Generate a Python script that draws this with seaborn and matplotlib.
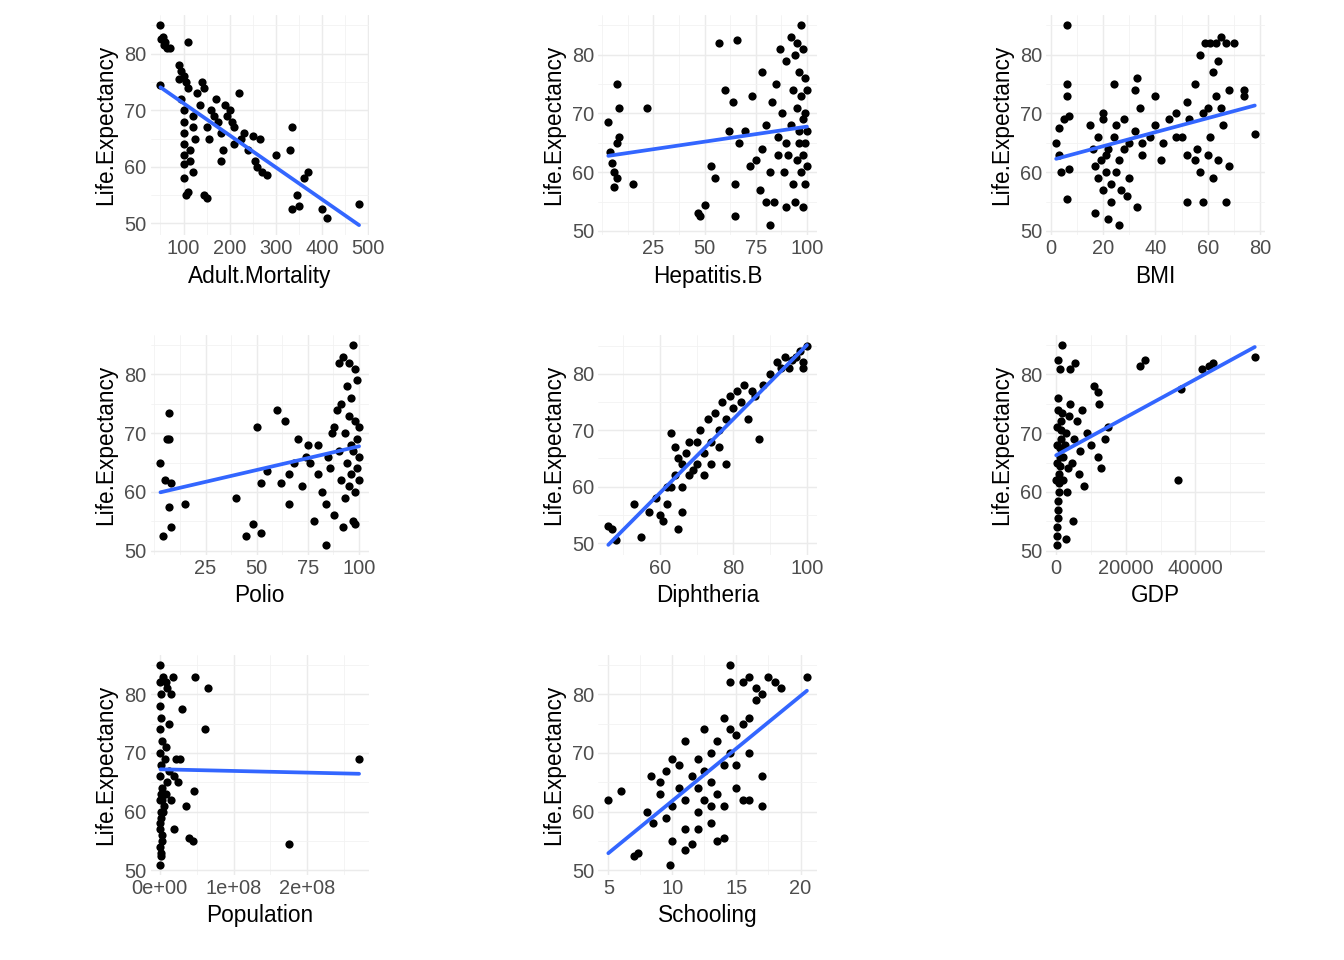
import numpy as np
import matplotlib
matplotlib.use("Agg")
import matplotlib.pyplot as plt
import seaborn as sns
from matplotlib.ticker import AutoMinorLocator, FixedLocator

# Life.Expectancy vs each predictor
adult_mortality = [50, 55, 52, 60, 58, 65, 70, 50, 110, 90, 95, 100, 105, 110, 90, 95, 100, 100, 100, 100, 100, 100, 102, 105, 110,
                   120, 120, 125, 115, 115, 120, 130, 135, 140, 145, 145, 150, 150, 155, 160, 165, 170, 175, 180, 180, 185, 190, 195,
                   200, 205, 210, 210, 220, 225, 230, 240, 250, 255, 260, 265, 270, 280, 300, 330, 335, 335, 345, 350, 360, 370, 400, 410, 480]
le_am = [85, 83, 82.5, 82, 81.5, 81, 81, 74.5, 82, 78, 77, 76, 75, 74, 75.5, 72, 70, 68, 66, 64, 62, 60.5, 58, 55, 55.5,
         69, 67, 65, 63, 61, 59, 73, 71, 75, 74, 55, 54.5, 67, 65, 70, 69, 72, 68, 66, 61, 63, 71, 69,
         70, 68, 67, 64, 73, 65, 66, 63, 65.5, 61, 60, 65, 59, 58.5, 62, 63, 67, 52.5, 55, 53, 58, 59, 52.5, 51, 53.5]

hep_b = [3, 4, 5, 6, 6, 7, 7, 8, 8, 7, 15, 22, 47, 48, 50, 53, 55, 57, 60, 62, 64, 65, 66, 65, 67, 70, 72, 73, 75, 77, 78, 78,
         80, 80, 82, 82, 83, 84, 85, 86, 86, 87, 88, 89, 90, 90, 90, 91, 92, 92, 93, 93, 94, 94, 95, 95, 95, 96, 96, 96,
         97, 97, 97, 98, 98, 98, 98, 99, 99, 99, 99, 100, 100, 100]
le_hb = [68.5, 63.5, 61.5, 60, 57.5, 59, 75, 71, 66, 65, 58, 71, 53, 52.5, 54.5, 61, 59, 82, 74, 67, 72, 52.5, 82.5, 58, 65, 67, 61, 73, 62, 57, 64, 77,
         55, 68, 60, 51, 72, 55, 75, 63, 66, 81, 70, 60, 54, 79, 65, 63, 83, 68, 58, 74, 55, 80, 62, 71, 82, 65, 67, 77,
         60, 85, 73, 54, 63, 69, 81, 65, 58, 76, 70, 67, 61, 74]

bmi = [2, 3, 3, 4, 5, 6, 6, 6, 6, 7, 7, 15, 16, 17, 17, 18, 18, 19, 20, 20, 20, 21, 21, 22, 22, 23, 23, 24, 24, 25, 25, 26, 26,
       27, 28, 28, 29, 30, 30, 32, 32, 33, 33, 34, 35, 35, 38, 40, 40, 42, 43, 45, 48, 48, 50, 52, 52, 52, 53, 55, 55, 56, 57,
       57, 58, 58, 59, 60, 60, 61, 61, 62, 62, 63, 63, 64, 64, 65, 65, 66, 67, 67, 68, 68, 70, 74, 74, 78]
le_bmi = [65, 63, 67.5, 60, 69, 85, 73, 75, 55.5, 69.5, 60.5, 68, 64, 61, 53, 59, 66, 62, 57, 69, 70, 60, 63, 52, 64, 58, 55, 75, 66, 60, 68, 62, 51,
          57, 64, 69, 56, 65, 59, 67, 74, 54, 76, 71, 63, 65, 66, 68, 73, 62, 65, 69, 70, 66, 66, 63, 55, 72, 69, 75, 62, 64, 60,
          80, 55, 70, 82, 71, 63, 82, 66, 77, 59, 82, 73, 62, 79, 83, 71, 68, 55, 82, 61, 74, 82, 74, 73, 66.5]

polio = [3, 4, 5, 6, 7, 7, 8, 7, 8, 15, 40, 45, 48, 50, 52, 52, 55, 60, 62, 64, 66, 66, 68, 70, 72, 74, 75, 76, 78, 80, 80, 82,
         84, 84, 85, 86, 87, 88, 88, 89, 90, 90, 91, 91, 92, 92, 93, 93, 94, 94, 95, 95, 95, 96, 96, 96, 97, 97, 97, 98, 98, 98,
         98, 99, 99, 99, 100, 100, 100]
le_polio = [65, 52.5, 62, 69, 69, 73.5, 61.5, 57.5, 54, 58, 59, 52.5, 54.5, 71, 53, 61.5, 63.5, 74, 61.5, 72, 63, 58, 65, 69, 61, 66, 68, 65, 55, 68, 63, 60,
            51, 58, 66, 64, 70, 71, 56, 74, 82, 67, 62, 75, 83, 54, 70, 59, 78, 65, 82, 61, 73, 63, 68, 76, 85, 55, 67, 81, 60, 72,
            54.5, 64, 69, 79, 62, 66, 71]

diphtheria = [46, 47, 48, 53, 55, 57, 59, 60, 61, 62, 62, 63, 63, 64, 64, 65, 65, 66, 66, 66, 67, 68, 68, 69, 70, 70, 71, 72, 72, 73,
              74, 74, 75, 76, 76, 77, 78, 78, 79, 80, 81, 82, 83, 84, 85, 86, 87, 88, 90, 92, 93, 94, 95, 96, 97, 98, 99, 99, 100]
le_diph = [53, 52.5, 50.5, 57, 51, 55.5, 58, 55, 54, 57, 60, 69.5, 60, 67, 62, 52.5, 65, 55.5, 60, 64, 66, 62, 68, 63, 68, 64, 70, 66, 62, 72,
           68, 64, 73, 67, 70, 75, 72, 64, 76, 74, 77, 75, 78, 72, 77, 76, 68.5, 78, 80, 82, 81, 83, 81, 82.5, 83, 84, 82, 81, 85]

gdp = [200, 300, 400, 500, 600, 700, 800, 900, 1000, 1100, 1200, 1300, 1400, 1500, 1600, 1700, 100, 200, 300, 400, 500, 600, 700,
       1200, 1800, 2000, 2200, 2500, 2800, 3000, 3200, 3500, 3800, 4000, 4200, 4500, 5000, 5200, 5500, 6000, 6500, 7000, 7500,
       8000, 9000, 10000, 11000, 12000, 12000, 12500, 13000, 14000, 15000, 24000, 25500, 35000, 36000, 42000, 44000, 45000, 57000]
le_gdp = [51, 52.5, 54, 55.5, 57, 58.5, 60, 61.5, 63, 64.5, 66, 67.5, 69, 70.5, 72, 73.5, 62, 65, 68, 71, 74, 76, 82.5,
          81, 85, 62, 66, 68, 52, 70, 60, 64, 73, 81, 75, 65, 55, 69, 82, 72, 63, 67, 74,
          61, 70, 68, 78, 77, 66, 75, 64, 69, 71, 81.5, 82.5, 62, 77.5, 81, 81.5, 82, 83]

population = [1e6, 2e6, 1e6, 3e6, 1e6, 2e6, 1e6, 3e6, 1e6, 2e6, 1e6, 3e6, 1e6, 2e6, 1e6, 2e6, 1e6, 1e6, 5e6, 8e6, 10e6,
              6e6, 8e6, 10e6, 12e6, 7e6, 9e6, 12e6, 15e6, 18e6, 15e6, 20e6, 20e6, 22e6, 25e6, 30e6, 28e6, 35e6, 40e6, 45e6,
              47e6, 48e6, 62e6, 65e6, 175e6, 270e6, 2e6, 3e6, 1e6, 2e6, 4e6, 3e6, 2e6]
le_pop = [51, 52.5, 54, 56, 58, 60, 62, 64, 66, 68, 70, 72, 74, 76, 78, 80, 82, 85, 83, 82, 81,
          61, 63, 65, 67, 69, 71, 75, 80, 83, 62, 57, 66, 69, 65, 77.5, 69, 61, 55.5, 55,
          63.5, 83, 74, 81, 54.5, 69, 53, 55, 57, 59, 60, 62, 63]

schooling = [5, 6, 7, 7.3, 8, 8.3, 8.5, 9, 9, 9.5, 9.5, 9.8, 10, 10, 10, 10.5, 10.5, 11, 11, 11, 11, 11.5, 11.5, 12, 12, 12, 12,
             12.5, 12.5, 12.5, 13, 13, 13, 13, 13.5, 13.5, 13.5, 14, 14, 14, 14, 14.5, 14.5, 14.5, 14.5, 15, 15, 15, 15.5, 15.5,
             15.5, 16, 16, 16, 16, 16.5, 16.5, 17, 17, 17, 17.5, 18, 18.5, 20.5]
le_school = [62, 63.5, 52.5, 53, 60, 66, 58, 63, 65, 59, 67, 51, 69, 61, 55, 64, 68, 53.5, 57, 62, 72, 54.5, 66, 60, 64, 69, 57,
             62, 67, 74, 65, 70, 58, 61, 72, 63, 55, 76, 68, 61, 55.5, 74, 70, 85, 82, 73, 64, 68, 75, 62,
             82, 76, 70, 83, 62, 81, 79, 80, 66, 61, 83, 82, 81, 83]

x_ticks = {
    "Adult.Mortality": [100, 200, 300, 400, 500],
    "Hepatitis.B": [25, 50, 75, 100],
    "BMI": [0, 20, 40, 60, 80],
    "Polio": [25, 50, 75, 100],
    "Diphtheria": [60, 80, 100],
    "GDP": [0, 20000, 40000],
    "Population": [0, 1e8, 2e8],
    "Schooling": [5, 10, 15, 20],
}

panels = [
    ("Adult.Mortality", adult_mortality, le_am),
    ("Hepatitis.B", hep_b, le_hb),
    ("BMI", bmi, le_bmi),
    ("Polio", polio, le_polio),
    ("Diphtheria", diphtheria, le_diph),
    ("GDP", gdp, le_gdp),
    ("Population", population, le_pop),
    ("Schooling", schooling, le_school),
]

sns.set_theme(style="whitegrid")
plt.rcParams["font.family"] = ["Liberation Sans", "DejaVu Sans"]

fig, axes = plt.subplots(3, 3, figsize=(14, 10), dpi=96)
fig.subplots_adjust(left=0.112, right=0.941, top=0.984, bottom=0.089, wspace=1.05, hspace=0.455)

for ax, (name, xs, ys) in zip(axes.flat, panels):
    sns.regplot(x=np.array(xs), y=np.array(ys), ax=ax, ci=None, truncate=True,
                scatter_kws=dict(color="black", s=38, linewidths=0, alpha=1),
                line_kws=dict(color="#3366FF", lw=2.8))
    ax.set_xlabel(name, fontsize=17, color="black", labelpad=5)
    ax.set_ylabel("Life.Expectancy", fontsize=17, color="black", labelpad=5)
    ax.set_yticks([50, 60, 70, 80])
    ax.xaxis.set_major_locator(FixedLocator(x_ticks[name]))
    if name == "Population":
        ax.set_xticklabels(["0e+00", "1e+08", "2e+08"])
    ax.xaxis.set_minor_locator(AutoMinorLocator(2))
    ax.yaxis.set_minor_locator(AutoMinorLocator(2))
    ax.grid(which="major", color="#EBEBEB", lw=1.1)
    ax.grid(which="minor", color="#F2F2F2", lw=0.6)
    ax.tick_params(which="both", length=0, labelsize=15, labelcolor="#4D4D4D", pad=3)
    for s in ax.spines.values():
        s.set_visible(False)

axes[2, 2].remove()
fig.savefig("out.png", dpi=96, facecolor="white")
